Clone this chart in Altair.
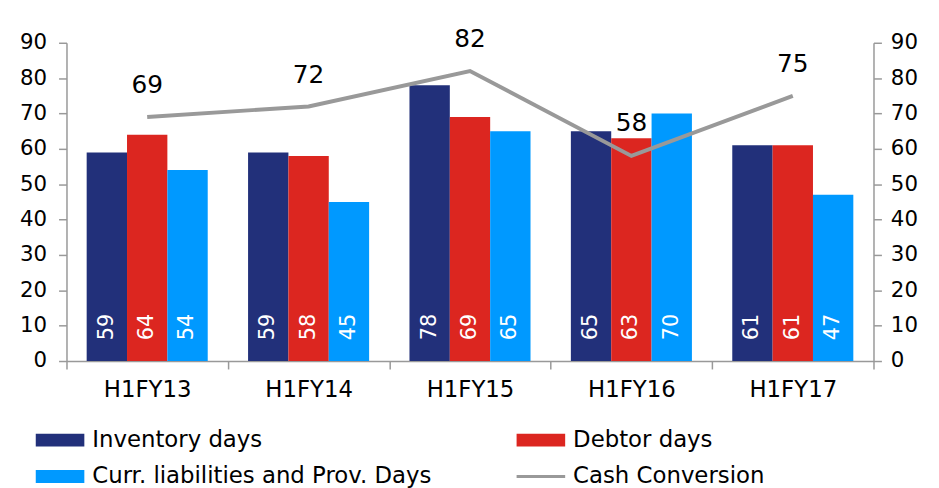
import altair as alt
import pandas as pd

categories = ["H1FY13", "H1FY14", "H1FY15", "H1FY16", "H1FY17"]
inventory_days = [59, 59, 78, 65, 61]
debtor_days = [64, 58, 69, 63, 61]
curr_liab_days = [54, 45, 65, 70, 47]
cash_conversion = [69, 72, 82, 58, 75]
series_names = ["Inventory days", "Debtor days", "Curr. liabilities and Prov. Days", "Cash Conversion"]
colors = ["#22307A", "#DC2620", "#0099FF", "#999999"]
y_ticks = [0, 10, 20, 30, 40, 50, 60, 70, 80, 90]

bars_df = pd.DataFrame({
    "category": categories * 3,
    "series": [series_names[0]] * 5 + [series_names[1]] * 5 + [series_names[2]] * 5,
    "value": inventory_days + debtor_days + curr_liab_days,
})
line_df = pd.DataFrame({"category": categories, "value": cash_conversion, "debtor": debtor_days})

FONT = "DejaVu Sans"
AXIS_GRAY = "#999999"

x_enc = alt.X(
    "category:N", sort=categories,
    scale=alt.Scale(paddingInner=0, paddingOuter=0),
    axis=alt.Axis(title=None, labelAngle=0, tickBand="extent", labelFontSize=23, labelFont=FONT,
                  labelColor="black", domainColor=AXIS_GRAY, tickColor=AXIS_GRAY, tickSize=8,
                  labelPadding=10, domainWidth=1.5, tickWidth=1.5),
)
y_scale = alt.Scale(domain=[0, 90], nice=False, zero=True)


def y_axis(orient, pad):
    return alt.Axis(title=None, values=y_ticks, orient=orient, labelFontSize=21.5, labelFont=FONT,
                    labelColor="black", domainColor=AXIS_GRAY, tickColor=AXIS_GRAY, tickSize=8,
                    labelPadding=pad, domainWidth=1.5, tickWidth=1.5, grid=False)


left_axis = y_axis("left", 12)
right_axis = y_axis("right", 9)

SQ = "M-1,-0.265H1V0.265H-1Z"
LN = "M-1,-0.06H1V0.06H-1Z"

legend = alt.Legend(
    title=None, orient="none", legendX=-31, legendY=376, columns=2, direction="horizontal",
    columnPadding=85, rowPadding=-14,
    labelFont=FONT, labelFontSize=23, labelColor="black", labelLimit=600, labelOffset=8,
    symbolType={"expr": f"datum.value === 'Cash Conversion' ? '{LN}' : '{SQ}'"},
    symbolSize=2401, symbolStrokeWidth=0, symbolOpacity=1, padding=0,
)

offset_enc = alt.XOffset("series:N", sort=series_names[:3],
                         scale=alt.Scale(paddingInner=0, paddingOuter=0.5))

bars = alt.Chart(bars_df).mark_bar().encode(
    x=x_enc,
    xOffset=offset_enc,
    y=alt.Y("value:Q", scale=y_scale, axis=left_axis),
    color=alt.Color("series:N", scale=alt.Scale(domain=series_names, range=colors), legend=legend),
)

bar_text = alt.Chart(bars_df).transform_calculate(base="0").mark_text(
    angle=270, align="left", baseline="middle", dx=21, color="white", fontSize=21, font=FONT
).encode(
    x=x_enc,
    xOffset=offset_enc,
    y=alt.Y("base:Q", scale=y_scale, axis=left_axis),
    text=alt.Text("value:Q"),
)

line = alt.Chart(line_df).mark_line(color="#999999", strokeWidth=4).encode(
    x=x_enc,
    y=alt.Y("value:Q", scale=y_scale, axis=right_axis),
)

line_text = alt.Chart(line_df).transform_calculate(
    labelpos="max(datum.value, datum.debtor - 4.8)"
).mark_text(baseline="alphabetic", align="center", dy=-24, fontSize=25, font=FONT, color="black").encode(
    x=x_enc,
    y=alt.Y("labelpos:Q", scale=y_scale, axis=right_axis),
    text=alt.Text("value:Q"),
)

chart = alt.layer(
    alt.layer(bars, bar_text),
    alt.layer(line, line_text),
).resolve_scale(y="independent").properties(
    width=814, height=321,
    padding={"left": 59, "top": 33, "right": 58, "bottom": 126},
    autosize=alt.AutoSizeParams(type="none"),
).configure_view(stroke=None)

chart.save("out.html", embed_options={"renderer": "svg", "actions": False})
